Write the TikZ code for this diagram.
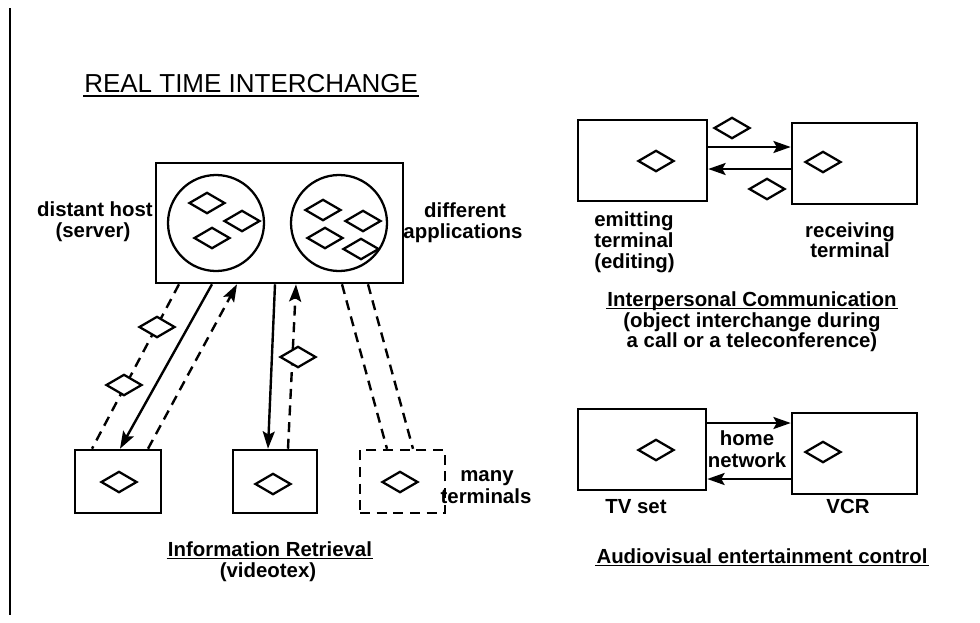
\documentclass[tikz,border=0pt]{standalone}
\usepackage{fontspec}
\setmainfont{Liberation Sans}
\usetikzlibrary{shapes.geometric,arrows.meta,calc}

\begin{document}
\begin{tikzpicture}[x=0.75pt,y=-0.75pt,
  line width=1.9pt,
  box/.style={draw, rectangle, inner sep=0pt},
  gem/.style={draw, diamond, fill=white, minimum width=27pt, minimum height=16pt, inner sep=0pt, line width=1.7pt},
  app/.style={draw, circle, inner sep=0pt, minimum size=72pt, line width=1.7pt},
  lbl/.style={inner sep=0pt, font=\fontsize{15.3}{18}\selectfont\bfseries},
  ttl/.style={inner sep=0pt, font=\fontsize{19.5}{24}\selectfont},
  link/.style={line width=1.8pt},
  dlink/.style={line width=1.8pt, dash pattern=on 7.5pt off 5pt},
  arr/.style={-{Stealth[length=13pt,width=9pt,inset=2.5pt]}},
  uline/.style={line width=1.2pt}
]
\useasboundingbox (0,0) rectangle (980,622);

% margin rule
\draw[line width=1.7pt] (10,8) -- (10,615);

% heading
\node[ttl, anchor=base west] (title) at (83,92) {REAL TIME INTERCHANGE};
\draw[uline] ([yshift=-3pt]title.base west) -- ([yshift=-3pt]title.base east);

% ---------- information retrieval ----------
\node[box, minimum width=185.25pt, minimum height=90pt] (host) at (279.5,223) {};
\node[app] (appL) at (216,223) {};
\node[app] (appR) at (339,223) {};
\node[gem] (a1) at (207,203) {};
\node[gem] (a2) at (242,221) {};
\node[gem] (a3) at (212,238) {};
\node[gem] (b1) at (323,210) {};
\node[gem] (b2) at (363,221) {};
\node[gem] (b3) at (325,238) {};
\node[gem] (b4) at (361,249) {};

\node[box, minimum width=64.5pt, minimum height=47.25pt] (t1) at (118,481.5) {};
\node[box, minimum width=63pt, minimum height=47.25pt] (t2) at (275,481.5) {};
\node[box, dlink, minimum width=63.75pt, minimum height=47.25pt] (t3) at (402.5,481.5) {};
\node[gem] (t1d) at (119,482) {};
\node[gem] (t2d) at (273,484) {};
\node[gem] (t3d) at (400,482) {};

\draw[dlink] (host.south -| 179,0) -- (t1.north -| 92,0);
\draw[link, arr] (host.south -| 212,0) -- (t1.north -| 120,0);
\draw[dlink, arr] (t1.north -| 148,0) -- (host.south -| 237,0);
\draw[link, arr] (host.south -| 275,0) -- (t2.north -| 268,0);
\draw[dlink, arr] (t2.north -| 288,0) -- (host.south -| 296,0);
\draw[dlink] (host.south -| 342,0) -- (t3.north -| 387,0);
\draw[dlink] (host.south -| 368,0) -- (t3.north -| 413,0);

\node[gem] (m1) at (157,327) {};
\node[gem] (m2) at (124,385) {};
\node[gem] (m3) at (298,357) {};

\node[lbl, anchor=base] (dh1) at (95,216) {distant host};
\node[lbl, anchor=base] (dh2) at (93,237) {(server)};
\node[lbl, anchor=base] (da1) at (465,217) {different};
\node[lbl, anchor=base] (da2) at (463,238) {applications};
\node[lbl, anchor=base] (mt1) at (487,481) {many};
\node[lbl, anchor=base] (mt2) at (486,503) {terminals};
\node[lbl, anchor=base] (ir1) at (270,556) {Information Retrieval};
\draw[uline] ([yshift=-1.8pt]ir1.base west) -- ([yshift=-1.8pt]ir1.base east);
\node[lbl, anchor=base] (ir2) at (268,577) {(videotex)};

% ---------- interpersonal communication ----------
\node[box, minimum width=96.75pt, minimum height=60.75pt] (emit) at (642.5,160.5) {};
\node[box, minimum width=93.75pt, minimum height=60.75pt] (recv) at (854.5,163.5) {};
\node[gem] (ed) at (656,161) {};
\node[gem] (rd) at (823,162) {};
\draw[link, arr] (emit.east |- 0,147) -- (recv.west |- 0,147);
\draw[link, arr] (recv.west |- 0,169) -- (emit.east |- 0,169);
\node[gem] (up) at (732,128) {};
\node[gem] (dn) at (767,189) {};

\node[lbl, anchor=base west] (em1) at (593,226) {emitting};
\node[lbl, anchor=base west] (em2) at (593,247) {terminal};
\node[lbl, anchor=base west] (em3) at (593,268) {(editing)};
\node[lbl, anchor=base] (rc1) at (850,237) {receiving};
\node[lbl, anchor=base] (rc2) at (850,257) {terminal};
\node[lbl, anchor=base] (ic1) at (752,306) {Interpersonal Communication};
\draw[uline] ([yshift=-1.8pt]ic1.base west) -- ([yshift=-1.8pt]ic1.base east);
\node[lbl, anchor=base] (ic2) at (752,327) {(object interchange during};
\node[lbl, anchor=base] (ic3) at (752,347) {a call or a teleconference)};

% ---------- audiovisual entertainment control ----------
\node[box, minimum width=96pt, minimum height=60.75pt] (tv) at (642,449.5) {};
\node[box, minimum width=93.75pt, minimum height=60.75pt] (vcr) at (854.5,453.5) {};
\node[gem] (tvd) at (656,450) {};
\node[gem] (vcd) at (823,452) {};
\draw[link, arr] (tv.east |- 0,423) -- (vcr.west |- 0,423);
\draw[link, arr] (vcr.west |- 0,479) -- (tv.east |- 0,479);

\node[lbl, anchor=base] (hn1) at (747,445) {home};
\node[lbl, anchor=base] (hn2) at (747,467) {network};
\node[lbl, anchor=base] (tvl) at (636,513) {TV set};
\node[lbl, anchor=base] (vcl) at (848,513) {VCR};
\node[lbl, anchor=base] (av) at (762,563) {Audiovisual entertainment control};
\draw[uline] ([yshift=-1.8pt]av.base west) -- ([yshift=-1.8pt]av.base east);
\end{tikzpicture}
\end{document}
